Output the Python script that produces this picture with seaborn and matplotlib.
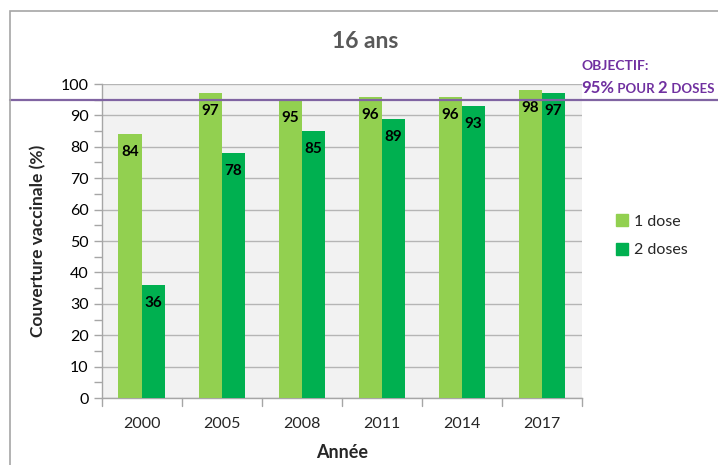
import matplotlib
matplotlib.use("Agg")
import matplotlib.pyplot as plt
import seaborn as sns
import pandas as pd
from matplotlib.patches import Rectangle
from matplotlib.lines import Line2D

years = ["2000", "2005", "2008", "2011", "2014", "2017"]
dose1 = [84, 97, 95, 96, 96, 98]
dose2 = [36, 78, 85, 89, 93, 97]
series = ["1 dose", "2 doses"]
colors = ["#92d050", "#00b050"]
objective = 95
yticks = list(range(0, 101, 10))

df = pd.DataFrame({
    "Année": years * 2,
    "val": dose1 + dose2,
    "série": [series[0]] * len(years) + [series[1]] * len(years),
})

sns.set_theme(style="white")
plt.rcParams["font.family"] = ["Lato", "DejaVu Sans"]

fig = plt.figure(figsize=(7.18, 4.65), dpi=100)
ax = fig.add_axes([101.7 / 718, 1 - 398 / 465, 480 / 718, (398 - 84) / 465])
ax.set_facecolor("#f2f2f2")

sns.barplot(data=df, x="Année", y="val", hue="série", palette=colors,
            width=0.58, gap=0, saturation=1, ax=ax, legend=False, zorder=3,
            linewidth=0, edgecolor="none")

ax.set_ylim(0, 100)
ax.set_xlim(-0.5, len(years) - 0.5)
ax.set_yticks(yticks)
ax.set_yticks(range(5, 100, 10), minor=True)
ax.grid(axis="y", which="major", color="#b5b5b5", linewidth=1, zorder=0)
ax.set_axisbelow(True)
for s in ["top", "right"]:
    ax.spines[s].set_visible(False)
for s in ["left", "bottom"]:
    ax.spines[s].set_color("#a6a6a6")
    ax.spines[s].set_linewidth(1)
ax.tick_params(axis="y", which="both", direction="out", length=6, color="#a6a6a6",
               labelsize=11.5, labelcolor="#000000", left=True, width=1)
ax.tick_params(axis="x", which="major", length=0, labelsize=11.5, pad=14)
# x ticks at category boundaries
for b in [i - 0.5 for i in range(len(years) + 1)]:
    ax.plot([b, b], [0, -2.5], color="#a6a6a6", lw=1, clip_on=False, zorder=4)

ax.set_xlabel("Année", fontsize=13, fontweight="bold", labelpad=9)
ax.set_ylabel("Couverture vaccinale (%)", fontsize=12.5, fontweight="bold", labelpad=10)

# bar labels
for cont in ax.containers:
    for rect in cont:
        h = rect.get_height()
        ax.annotate(f"{h:.0f}", (rect.get_x() + rect.get_width() / 2, h),
                    xytext=(0, -13), textcoords="offset points",
                    ha="center", va="center", fontsize=11, fontweight="bold",
                    color="#000000", zorder=5)

# objective line
ax.axhline(objective, xmin=(10 - 101.7) / 480, xmax=(718 - 101.7) / 480,
           color="#8064a2", lw=1.6, clip_on=False, zorder=6)

# title
fig.text(365 / 718, 1 - 41 / 465, "16 ans", ha="center", va="center",
         fontsize=16.5, fontweight="bold", color="#595959")

# objective text
purple = "#7030a0"
fig.canvas.draw()
renderer = fig.canvas.get_renderer()
parts = [("95%", 12), (" POUR ", 9.5), ("2", 12), (" DOSES", 9.5)]
ybase = 465 - 93
texts = []
total = 0
for txt, fs in parts:
    t = fig.text(0, ybase / 465, txt, ha="left", va="baseline",
                 fontsize=fs, fontweight="bold", color=purple)
    w = t.get_window_extent(renderer).width
    texts.append((t, w))
    total += w
xstart = 714 - total
xpix = xstart
for t, w in texts:
    t.set_x(xpix / 718)
    xpix += w
fig.text(xstart / 718, 1 - 66 / 465, "OBJECTIF:", ha="left", va="center",
         fontsize=10, fontweight="bold", color=purple)

# legend
handles = [Line2D([], [], marker="s", linestyle="", markersize=8,
                  markerfacecolor=c, markeredgecolor=c) for c in colors]
fig.legend(handles, series, loc="upper left", bbox_to_anchor=(600 / 718, 1 - 200 / 465),
           frameon=False, fontsize=11.5, handletextpad=0.2, labelspacing=0.9,
           handlelength=1.0)

# chart border
fig.patches.append(Rectangle((10 / 718, -0.1), 1.2, 1 - 11 / 465 + 0.1,
                             transform=fig.transFigure, fill=False,
                             edgecolor="#a6a6a6", lw=1.2, zorder=0))

fig.savefig("out.png", dpi=100)
